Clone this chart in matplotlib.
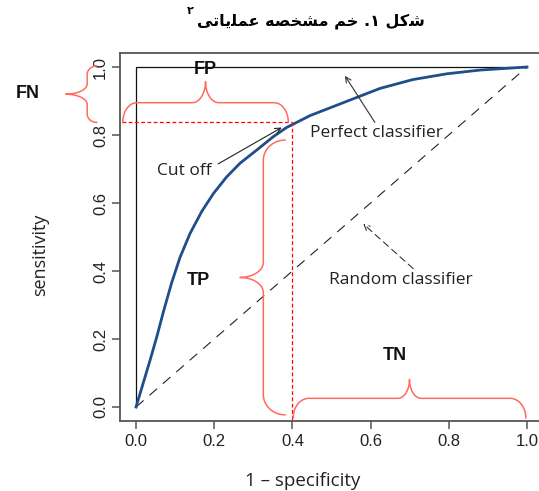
import numpy as np
import matplotlib.pyplot as plt

# ROC curve
fpr = [0.0, 0.036, 0.053, 0.07, 0.091, 0.1125, 0.138, 0.168, 0.198, 0.232,
       0.266, 0.309, 0.351, 0.385, 0.445, 0.53, 0.624, 0.708, 0.795, 0.88, 1.0]
tpr = [0.0, 0.138, 0.206, 0.28, 0.365, 0.44, 0.51, 0.575, 0.628, 0.677,
       0.717, 0.756, 0.795, 0.822, 0.857, 0.895, 0.937, 0.963, 0.98, 0.991, 1.0]

cutoff = (0.4, 0.837)
ticks = [0.0, 0.2, 0.4, 0.6, 0.8, 1.0]
tick_labels = ['0.0', '0.2', '0.4', '0.6', '0.8', '1.0']

# Persian title, pre-shaped (presentation forms, visual order)
title_fa = ('\uFBFD\uFE97\uFE8E\uFBFE\uFEE0\uFEE4\uFECB' + ' ' +
            '\uFEEA\uFEBC\uFEA8\uFEB8\uFEE3' + ' ' +
            '\uFEE2\uFEA7' + ' ' + '.\u06F1' + ' ' +
            '\uFEDE\uFB90\uFEB7')
title_sup = '\u06F2'

RED = '#ff6b5c'
sans = 'Liberation Sans'
human = 'Open Sans'


def brace(ax, s0, s1, base, flat, tip, r_end, r_tip, vertical=False, **kw):
    """Curly brace along s (x, or y if vertical); across values base->flat->tip."""
    sm = (s0 + s1) / 2
    th = np.linspace(0, np.pi / 2, 30)
    pts = []
    pts += list(zip(s0 + r_end - r_end * np.cos(th), base + (flat - base) * np.sin(th)))
    pts += list(zip(sm - r_tip + r_tip * np.sin(th), tip + (flat - tip) * np.cos(th)))
    pts += list(zip(sm + r_tip - r_tip * np.cos(th), tip + (flat - tip) * np.sin(th)))
    pts += list(zip(s1 - r_end + r_end * np.sin(th), base + (flat - base) * np.cos(th)))
    s = [p[0] for p in pts]
    n = [p[1] for p in pts]
    if vertical:
        ax.plot(n, s, **kw)
    else:
        ax.plot(s, n, **kw)


fig = plt.figure(figsize=(5.39, 4.91), dpi=100)
ax = fig.add_axes([120.4 / 539, 1 - 420.6 / 491, 422.2 / 539, 367.2 / 491])
ax.set_xlim(-0.04, 1.04)
ax.set_ylim(-0.04, 1.04)

for sp in ax.spines.values():
    sp.set_color('#555555')
    sp.set_linewidth(1.3)
ax.spines['right'].set_visible(False)

ax.set_xticks(ticks)
ax.set_xticklabels(tick_labels, fontfamily=sans, fontsize=12, color='#222222')
ax.set_yticks(ticks)
ax.set_yticklabels(tick_labels, fontfamily=sans, fontsize=12, color='#222222',
                   rotation=90, va='center')
ax.tick_params(length=6, width=1.1, color='#555555', pad=4)
ax.tick_params(axis='y', pad=3)

# perfect classifier lines and random diagonal
ax.plot([0, 0, 1], [0, 1, 1], color='#111111', lw=0.9)
ax.plot([0, 1], [0, 1], color='#222222', lw=0.8, linestyle=(0, (9, 7)))

# ROC curve
ax.plot(fpr, tpr, color='#1f4e8a', lw=2)

# cut-off dashed guides
ax.plot([-0.035, cutoff[0]], [cutoff[1], cutoff[1]], color='red', lw=0.9,
        linestyle=(0, (3, 2)))
ax.plot([cutoff[0], cutoff[0]], [cutoff[1], -0.037], color='red', lw=0.9,
        linestyle=(0, (3, 2)))

# braces
bk = dict(color=RED, lw=1.1, clip_on=False)
brace(ax, -0.034, 0.3895, 0.837, 0.895, 0.957, 0.036, 0.034, **bk)           # FP
brace(ax, 0.402, 0.997, -0.032, 0.0255, 0.081, 0.04, 0.03, **bk)             # TN
brace(ax, 0.837, 1.003, -0.1005, -0.125, -0.18, 0.025, 0.03, vertical=True, **bk)  # FN
brace(ax, -0.023, 0.785, 0.381, 0.3256, 0.266, 0.06, 0.045, vertical=True, **bk)   # TP

lk = dict(fontfamily=sans, fontsize=13, fontweight='bold', ha='center',
          va='center', color='#111111', clip_on=False)
ax.text(0.176, 0.994, 'FP', **lk)
ax.text(-0.276, 0.921, 'FN', **lk)
ax.text(0.159, 0.372, 'TP', **lk)
ax.text(0.662, 0.152, 'TN', **lk)

# annotations
tk = dict(fontfamily=human, fontsize=12.5, ha='left', va='center', color='#222222')
ax.text(0.053, 0.694, 'Cut off', **tk)
ax.annotate('', xy=(0.3726, 0.822), xytext=(0.21, 0.715),
            arrowprops=dict(arrowstyle='->', color='#222222', lw=0.8,
                            shrinkA=0, shrinkB=0))
ax.text(0.445, 0.807, 'Perfect classifier', **tk)
ax.annotate('', xy=(0.5345, 0.974), xytext=(0.611, 0.837),
            arrowprops=dict(arrowstyle='->', color='#333333', lw=0.8,
                            shrinkA=0, shrinkB=0))
ax.text(0.494, 0.375, 'Random classifier', **tk)
ax.annotate('', xy=(0.581, 0.539), xytext=(0.709, 0.407),
            arrowprops=dict(arrowstyle='->', color='#333333', lw=0.8,
                            linestyle=(0, (6, 4)), shrinkA=0, shrinkB=0))

# axis labels
fig.text(303 / 539, 1 - 481 / 491, '1 \u2013 specificity', fontfamily=human,
         fontsize=13.5, ha='center', va='center', color='#222222')
fig.text(40 / 539, 1 - 255 / 491, 'sensitivity', fontfamily=human,
         fontsize=13, ha='center', va='center', rotation=90, color='#222222')

# title
fig.text(425 / 539, 1 - 21 / 491, title_fa, fontfamily=['DejaVu Sans'],
         fontsize=11.5, fontweight='bold', ha='right', va='center')
fig.text(194 / 539, 1 - 11 / 491, title_sup, fontfamily=['DejaVu Sans'],
         fontsize=8, fontweight='bold', ha='right', va='center')

fig.savefig('out.png', dpi=100)
